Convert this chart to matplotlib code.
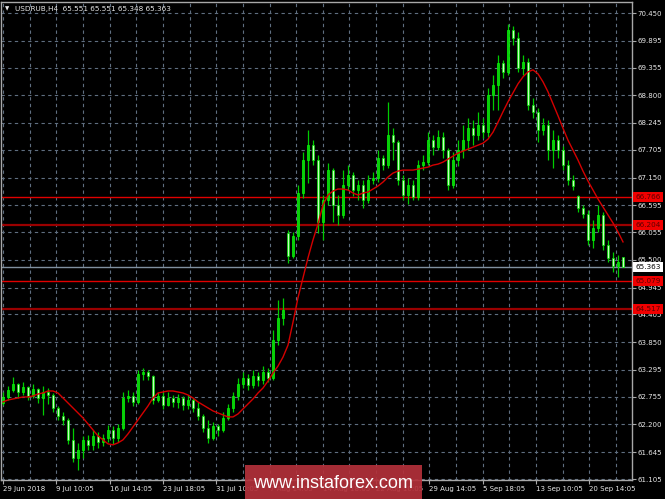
import matplotlib
matplotlib.use('Agg')
import matplotlib.pyplot as plt
import numpy as np
from matplotlib.patches import Rectangle

# ---------------- data ----------------
opens = [62.63, 62.75, 62.89, 63.01, 62.85, 62.95, 62.77, 62.91, 62.73, 62.85,
         62.79, 62.53, 62.37, 62.29, 61.89, 61.53, 61.69, 61.89, 61.79, 61.97,
         61.85, 61.93, 62.09, 61.93, 62.13, 62.73, 62.77, 62.65, 63.21, 63.25,
         63.17, 62.69, 62.77, 62.59, 62.73, 62.65, 62.73, 62.59, 62.69, 62.53,
         62.37, 62.13, 61.93, 62.17, 62.09, 62.33, 62.53, 62.77, 63.01, 63.13,
         62.99, 63.17, 63.09, 63.25, 63.13, 63.89, 64.33, 66.04, 65.58, 65.98,
         66.84, 67.50, 67.80, 67.50, 66.26, 66.70, 67.30, 66.60, 66.40, 67.00,
         67.20, 66.90, 67.00, 66.70, 67.10, 67.14, 67.54, 67.40, 68.00, 67.86,
         67.10, 66.80, 67.00, 66.76, 67.40, 67.46, 67.90, 67.76, 67.96, 67.70,
         67.00, 67.50, 67.70, 67.90, 68.14, 68.00, 68.20, 68.06, 68.81, 69.01,
         69.45, 69.27, 70.11, 69.95, 69.35, 69.47, 68.61, 68.47, 68.10, 68.20,
         67.70, 67.90, 67.70, 67.40, 67.10, 66.78, 66.54, 66.42, 65.90, 66.14,
         66.40, 65.80, 65.54, 65.38, 65.551]
closes = [62.75, 62.89, 63.01, 62.85, 62.95, 62.77, 62.91, 62.73, 62.85, 62.79,
          62.53, 62.37, 62.29, 61.89, 61.53, 61.69, 61.89, 61.79, 61.97, 61.85,
          61.93, 62.09, 61.93, 62.13, 62.73, 62.77, 62.65, 63.21, 63.25, 63.17,
          62.69, 62.77, 62.59, 62.73, 62.65, 62.73, 62.59, 62.69, 62.53, 62.37,
          62.13, 61.93, 62.17, 62.09, 62.33, 62.53, 62.77, 63.01, 63.13, 62.99,
          63.17, 63.09, 63.25, 63.13, 63.89, 64.33, 64.49, 65.58, 65.98, 66.84,
          67.50, 67.80, 67.50, 66.26, 66.70, 67.30, 66.60, 66.40, 67.00, 67.20,
          66.90, 67.00, 66.70, 67.10, 67.14, 67.54, 67.40, 68.00, 67.86, 67.10,
          66.80, 67.00, 66.76, 67.40, 67.46, 67.90, 67.76, 67.96, 67.70, 67.00,
          67.50, 67.70, 67.90, 68.14, 68.00, 68.20, 68.06, 68.81, 69.01, 69.45,
          69.27, 70.11, 69.95, 69.35, 69.47, 68.61, 68.47, 68.10, 68.20, 67.70,
          67.90, 67.70, 67.40, 67.10, 66.98, 66.54, 66.42, 65.90, 66.14, 66.40,
          65.80, 65.54, 65.38, 65.46, 65.363]
highs = [62.85, 62.97, 63.15, 63.03, 63.05, 62.97, 63.01, 62.93, 62.97, 62.93,
         62.83, 62.57, 62.45, 62.33, 62.13, 61.83, 61.97, 61.99, 62.09, 62.05,
         62.01, 62.19, 62.17, 62.21, 62.85, 62.89, 62.85, 63.29, 63.33, 63.29,
         63.19, 62.85, 62.85, 62.85, 62.79, 62.81, 62.77, 62.79, 62.73, 62.65,
         62.41, 62.29, 62.25, 62.21, 62.45, 62.61, 62.85, 63.13, 63.25, 63.21,
         63.29, 63.25, 63.37, 63.33, 64.09, 64.70, 64.74, 66.10, 66.06, 67.00,
         67.66, 68.10, 67.90, 67.60, 66.80, 67.44, 67.34, 66.80, 67.30, 67.40,
         67.26, 67.10, 67.10, 67.20, 67.26, 67.70, 67.60, 68.67, 68.14, 67.90,
         67.20, 67.14, 67.10, 67.50, 67.60, 68.06, 68.00, 68.10, 68.06, 67.74,
         67.66, 67.90, 68.20, 68.35, 68.31, 68.47, 68.35, 68.95, 69.21, 69.61,
         69.51, 70.23, 70.19, 70.07, 69.61, 69.55, 68.75, 68.55, 68.35, 68.31,
         68.10, 68.00, 67.78, 67.50, 67.20, 66.80, 66.60, 66.50, 66.30, 66.60,
         66.46, 65.90, 65.66, 65.60, 65.551]
lows = [62.59, 62.69, 62.85, 62.73, 62.79, 62.69, 62.73, 62.63, 62.39, 62.61,
        62.45, 62.29, 62.19, 61.81, 61.45, 61.29, 61.53, 61.69, 61.69, 61.73,
        61.77, 61.85, 61.81, 61.85, 62.09, 62.65, 62.57, 62.61, 63.09, 63.09,
        62.61, 62.65, 62.51, 62.57, 62.55, 62.53, 62.49, 62.51, 62.45, 62.29,
        62.05, 61.83, 61.89, 61.97, 62.05, 62.29, 62.45, 62.69, 62.93, 62.89,
        62.93, 62.97, 63.01, 63.05, 63.09, 63.79, 64.19, 65.44, 65.54, 65.90,
        66.74, 67.04, 67.40, 66.04, 65.90, 66.60, 66.26, 66.20, 66.34, 66.90,
        66.78, 66.70, 66.54, 66.64, 67.02, 67.06, 67.30, 67.34, 67.50, 67.00,
        66.70, 66.62, 66.70, 66.70, 67.30, 67.40, 67.60, 67.70, 67.54, 66.90,
        66.94, 67.38, 67.54, 67.70, 67.80, 67.90, 67.94, 67.96, 68.51, 68.51,
        69.15, 69.21, 69.81, 69.27, 69.21, 68.51, 68.35, 67.86, 68.00, 67.50,
        67.34, 67.54, 67.30, 67.00, 66.90, 66.46, 66.34, 65.80, 65.74, 66.06,
        65.70, 65.46, 65.26, 65.16, 65.348]
ma_values = [62.65, 62.69, 62.71, 62.73, 62.75, 62.75, 62.77, 62.81, 62.83, 62.87,
             62.87, 62.83, 62.73, 62.63, 62.53, 62.43, 62.33, 62.21, 62.09, 61.97,
             61.89, 61.81, 61.79, 61.83, 61.89, 62.01, 62.15, 62.29, 62.43, 62.57,
             62.73, 62.83, 62.85, 62.87, 62.87, 62.85, 62.83, 62.79, 62.73, 62.65,
             62.59, 62.53, 62.47, 62.43, 62.39, 62.35, 62.35, 62.41, 62.51, 62.61,
             62.71, 62.83, 62.93, 63.07, 63.23, 63.37, 63.55, 63.79, 64.25, 64.74,
             65.14, 65.54, 65.90, 66.22, 66.60, 66.80, 66.88, 66.92, 66.92, 66.90,
             66.84, 66.80, 66.84, 66.86, 66.92, 66.98, 67.06, 67.16, 67.24, 67.28,
             67.30, 67.30, 67.30, 67.32, 67.34, 67.36, 67.40, 67.42, 67.46, 67.52,
             67.58, 67.64, 67.68, 67.72, 67.76, 67.80, 67.84, 67.92, 68.06, 68.26,
             68.47, 68.67, 68.85, 69.03, 69.17, 69.27, 69.31, 69.23, 69.07, 68.87,
             68.63, 68.39, 68.14, 67.90, 67.70, 67.50, 67.28, 67.08, 66.90, 66.72,
             66.56, 66.40, 66.24, 66.06, 65.86]

price_ticks = [70.450, 69.895, 69.355, 68.800, 68.245, 67.705, 67.150, 66.595,
               66.055, 65.500, 64.945, 64.405, 63.850, 63.295, 62.755, 62.200,
               61.645, 61.105]
date_labels = ['29 Jun 2018', '9 Jul 10:05', '16 Jul 14:05', '23 Jul 18:05',
               '31 Jul 10:05', '7 Aug 14:05', '14 Aug 18:05', '22 Aug 10:05',
               '29 Aug 14:05', '5 Sep 18:05', '13 Sep 10:05', '20 Sep 14:05']
levels_bright = [66.766, 65.079]
levels_dark = [66.204, 64.517]
last_price = 65.363
title_text = 'USDRUB,H4  65.551 65.551 65.348 65.363'
watermark = 'www.instaforex.com'

# ---------------- figure ----------------
W, H = 665, 499
fig = plt.figure(figsize=(W / 100, H / 100), dpi=100, facecolor='black')
ax = fig.add_axes([1 / W, 19 / H, 631 / W, 478 / H], facecolor='black')

n = len(closes)
x = np.arange(n)
ax.set_xlim(-0.4, 125.8)
ax.set_ylim(61.085, 70.671)

grid_c = '#5f6e80'
bars_per_label = 10.66
for yv in price_ticks:
    ax.axhline(yv, color=grid_c, lw=0.8, ls=(0, (3, 3)), zorder=1)
for xv in np.arange(0, 126, bars_per_label / 2):
    ax.axvline(xv, color=grid_c, lw=0.8, ls=(0, (3, 3)), zorder=1)

# level lines
for lv in levels_bright:
    ax.axhline(lv, color='#e00000', lw=1.0, zorder=2)
for lv in levels_dark:
    ax.axhline(lv, color='#9a0000', lw=1.6, zorder=2)
ax.axhline(last_price, color='#8090a0', lw=1.0, zorder=2)

# candles
o = np.array(opens); c = np.array(closes); hi = np.array(highs); lo = np.array(lows)
ax.vlines(x, lo, hi, color='#00cc00', lw=0.9, zorder=3)
bull = c >= o
bottom = np.minimum(o, c)
height = np.maximum(np.abs(c - o), 0.025)
ax.bar(x[bull], height[bull], bottom=bottom[bull], width=0.5,
       color='#10c810', edgecolor='#00ff00', linewidth=0.5, zorder=4)
ax.bar(x[~bull], height[~bull], bottom=bottom[~bull], width=0.5,
       color='#c8ffc0', edgecolor='#00e000', linewidth=0.5, zorder=4)

# moving average
ax.plot(x, ma_values, color='#d40000', lw=1.0, zorder=5)

# axes styling
for s in ax.spines.values():
    s.set_color('#a8a8a8')
    s.set_linewidth(1.0)
ax.yaxis.tick_right()
ax.set_yticks(price_ticks)
ax.set_yticklabels([f'{v:.3f}' for v in price_ticks])
ax.tick_params(axis='y', colors='#a8a8a8', labelcolor='#e8e8e8', labelsize=5,
               length=3, width=0.8, pad=1)
ax.set_xticks(np.arange(len(date_labels)) * bars_per_label)
ax.set_xticklabels(date_labels)
for lab in ax.get_xticklabels():
    lab.set_horizontalalignment('left')
ax.tick_params(axis='x', colors='#a8a8a8', labelcolor='#e8e8e8', labelsize=5,
               length=3, width=0.8, pad=1.5)
for lab in ax.get_xticklabels() + ax.get_yticklabels():
    lab.set_family('DejaVu Sans')

# price labels on the right
def price_box(val, fc, tc):
    ax.annotate(f'{val:.3f}', xy=(1.0, val), xycoords=('axes fraction', 'data'),
                xytext=(2.5, 0), textcoords='offset points', va='center', ha='left',
                fontsize=5.2, color=tc, family='DejaVu Sans', annotation_clip=False,
                zorder=20,
                bbox=dict(boxstyle='square,pad=0.3', fc=fc, ec='none'))

for lv in levels_bright + levels_dark:
    price_box(lv, '#f00000', '#5a0000')
price_box(last_price, '#ffffff', '#000000')

# title
fig.text(5 / W, 1 - 9 / H, '\u25bc', color='#e8e8e8', fontsize=4, va='center',
         ha='left')
fig.text(15 / W, 1 - 9 / H, title_text, color='#e8e8e8', fontsize=5.2,
         va='center', ha='left', family='DejaVu Sans')

# watermark
rect = Rectangle((245 / W, 0), (422 - 245) / W, 34 / H, transform=fig.transFigure,
                 facecolor='#b3303a', edgecolor='none', alpha=0.92, zorder=30)
fig.add_artist(rect)
fig.text(333 / W, 1 - 484 / H, watermark, color='white', fontsize=13,
         family='Liberation Sans', ha='center', va='center', zorder=31)

fig.savefig('out.png', dpi=100, facecolor='black')
